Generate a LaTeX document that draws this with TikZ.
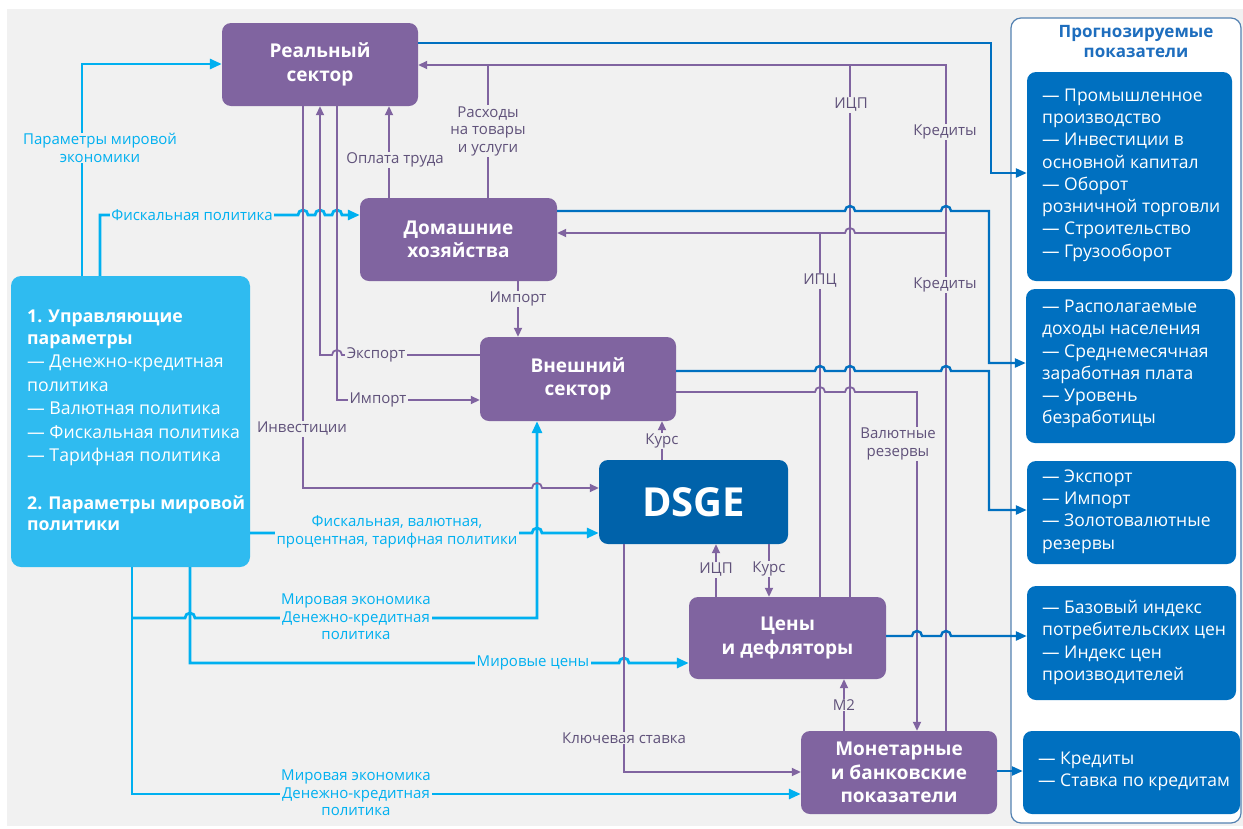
\documentclass[tikz,border=0pt]{standalone}
\usepackage{fontspec}
\setmainfont{Open Sans}
\usetikzlibrary{arrows.meta}

\definecolor{bggray}{RGB}{241,241,241}
\definecolor{mpurple}{RGB}{128,100,160}
\definecolor{ptext}{RGB}{96,82,122}
\definecolor{lblue}{RGB}{0,176,240}
\definecolor{lbox}{RGB}{47,187,240}
\definecolor{dblue}{RGB}{0,112,192}
\definecolor{dsgeblue}{RGB}{0,98,170}
\definecolor{framec}{RGB}{84,130,178}
\definecolor{ttlblue}{RGB}{30,110,190}

\newcommand{\boxfont}{\fontsize{19}{23.5}\selectfont\bfseries}
\newcommand{\lblfont}{\fontsize{15}{17.5}\selectfont}
\newcommand{\listfont}{\fontsize{17.5}{22.3}\selectfont}
\newcommand{\ctrlfont}{\fontsize{17.7}{23.5}\selectfont}

\tikzset{
  pbox/.style={rectangle,rounded corners=9pt,fill=mpurple,text=white,font=\boxfont,align=center},
  rbox/.style={rectangle,rounded corners=9pt,fill=dblue},
  rtext/.style={anchor=west,text=white,font=\listfont,align=left,inner sep=0pt},
  plabel/.style={fill=bggray,text=ptext,font=\lblfont,align=center,inner xsep=1.5pt,inner ysep=1pt},
  blabel/.style={plabel,text=lblue},
  pline/.style={draw=mpurple,line width=1.8pt},
  parrow/.style={pline,-{Triangle[length=9pt,width=8pt]}},
  bline/.style={draw=lblue,line width=2.8pt},
  barrow/.style={bline,-{Triangle[length=12pt,width=10pt]}},
  dline/.style={draw=dblue,line width=2.4pt,-{Triangle[length=11pt,width=9pt]}},
}

\begin{document}
\begin{tikzpicture}[x=1pt,y=-1pt]
  \useasboundingbox (0,0) rectangle (1243,828);
  \fill[bggray] (7,9) rectangle (1243,826);
  \draw[framec,line width=1.2pt,fill=white,rounded corners=10pt] (1011,18) rectangle (1241,823);
  \node[font=\fontsize{17}{20}\selectfont\bfseries,text=ttlblue,align=center] (ttl) at (1136,42) {Прогнозируемые\\показатели};

  % forecast boxes
  \node[rbox,minimum width=205,minimum height=209] (r1) at (1129.5,176.5) {};
  \node[rbox,minimum width=209,minimum height=154] (r2) at (1130.5,366) {};
  \node[rbox,minimum width=209,minimum height=103] (r3) at (1131.5,512.5) {};
  \node[rbox,minimum width=209,minimum height=114] (r4) at (1131.5,643) {};
  \node[rbox,minimum width=217,minimum height=83] (r5) at (1131.5,772.5) {};
  \node[rtext] (r1t) at (1042,175) {— Промышленное\\производство\\— Инвестиции в\\основной капитал\\— Оборот\\розничной торговли\\— Строительство\\— Грузооборот};
  \node[rtext] (r2t) at (1042,364) {— Располагаемые\\доходы населения\\— Среднемесячная\\заработная плата\\— Уровень\\безработицы};
  \node[rtext] (r3t) at (1042,511.5) {— Экспорт\\— Импорт\\— Золотовалютные\\резервы};
  \node[rtext] (r4t) at (1042,642.5) {— Базовый индекс\\потребительских цен\\— Индекс цен\\производителей};
  \node[rtext] (r5t) at (1038,771.5) {— Кредиты\\— Ставка по кредитам};

  % control parameters
  \node[rectangle,rounded corners=10pt,fill=lbox,minimum width=239,minimum height=291] (lp) at (130.5,421.5) {};
  \node[rtext,font=\ctrlfont] (lpt) at (27,420.5) {\textbf{1. Управляющие}\\[-2pt]\textbf{параметры}\\— Денежно-кредитная\\политика\\— Валютная политика\\— Фискальная политика\\— Тарифная политика\\[24pt]\textbf{2. Параметры мировой}\\[-2pt]\textbf{политики}};

  % model blocks
  \node[pbox,minimum width=196,minimum height=83] (re) at (320,64.5) {Реальный\\сектор};
  \node[pbox,minimum width=197,minimum height=83] (dh) at (458.5,239.5) {Домашние\\хозяйства};
  \node[pbox,minimum width=196,minimum height=84] (vs) at (578,379) {Внешний\\сектор};
  \node[pbox,fill=dsgeblue,font=\fontsize{40}{46}\selectfont\bfseries,minimum width=189,minimum height=84] (dsge) at (693.5,502) {DSGE};
  \node[pbox,minimum width=197,minimum height=82] (cd) at (787.5,638) {Цены\\и дефляторы};
  \node[pbox,minimum width=196,minimum height=83] (mb) at (899,772.5) {Монетарные\\и банковские\\показатели};

  % light blue inputs
  \coordinate (c1) at (82,64);
  \draw[barrow] (lp.north -| c1) -- (c1) -- (re.west |- c1);
  \coordinate (c2) at (100,215);
  \draw[barrow] (lp.north -| c2) -- (c2) -- (298,215) arc[start angle=180,end angle=360,radius=5]
    -- (315,215) arc[start angle=180,end angle=360,radius=5]
    -- (332,215) arc[start angle=180,end angle=360,radius=5] -- (dh.west |- c2);
  \coordinate (c3) at (537,533);
  \draw[barrow] (lp.east |- c3) -- (532,533) arc[start angle=180,end angle=360,radius=5] -- (dsge.west |- c3);
  \coordinate (c4) at (132,794);
  \draw[barrow] (lp.south -| c4) -- (c4) -- (mb.west |- c4);
  \coordinate (c5) at (132,618);
  \coordinate (c6) at (537,618);
  \draw[barrow] (c5) -- (185,618) arc[start angle=180,end angle=360,radius=5] -- (c6) -- (vs.south -| c6);
  \coordinate (c7) at (190,663);
  \draw[barrow] (lp.south -| c7) -- (c7) -- (619,663) arc[start angle=180,end angle=360,radius=5] -- (cd.west |- c7);

  % purple flows
  \coordinate (p1) at (303,488);
  \draw[parrow] (re.south -| p1) -- (p1) -- (532,488) arc[start angle=180,end angle=360,radius=5] -- (dsge.west |- p1);
  \coordinate (p2) at (320,355);
  \draw[parrow] (vs.west |- p2) -- (342,355) arc[start angle=0,end angle=-180,radius=5] -- (p2) -- (re.south -| p2);
  \coordinate (p3) at (337,400);
  \draw[parrow] (re.south -| p3) -- (p3) -- (vs.west |- p3);
  \coordinate (p4) at (389,160);
  \draw[parrow] (dh.north -| p4) -- (re.south -| p4);
  \coordinate (p5) at (946,65);
  \draw[parrow] (mb.north -| p5) -- (p5) -- (re.east |- p5);
  \coordinate (p6) at (488,65);
  \draw[pline] (dh.north -| p6) -- (p6);
  \coordinate (p7) at (850,65);
  \draw[pline] (cd.north -| p7) -- (p7);
  \coordinate (p8) at (946,233);
  \draw[parrow] (p8) -- (855,233) arc[start angle=0,end angle=-180,radius=5] -- (dh.east |- p8);
  \coordinate (p9) at (820,233);
  \draw[pline] (cd.north -| p9) -- (p9);
  \coordinate (p10) at (917,392);
  \draw[parrow] (vs.east |- p10) -- (815,392) arc[start angle=180,end angle=360,radius=5]
    -- (845,392) arc[start angle=180,end angle=360,radius=5] -- (p10) -- (mb.north -| p10);
  \coordinate (p11) at (662,441);
  \draw[parrow] (dsge.north -| p11) -- (vs.south -| p11);
  \coordinate (p12) at (716,570);
  \draw[parrow] (cd.north -| p12) -- (dsge.south -| p12);
  \coordinate (p13) at (769,570);
  \draw[parrow] (dsge.south -| p13) -- (cd.north -| p13);
  \coordinate (p14) at (624,772);
  \draw[parrow] (dsge.south -| p14) -- (p14) -- (mb.west |- p14);
  \coordinate (p15) at (844,705);
  \draw[parrow] (mb.north -| p15) -- (cd.south -| p15);
  \coordinate (p16) at (518,299);
  \draw[parrow] (dh.south -| p16) -- (vs.north -| p16);

  % dark blue outputs
  \coordinate (d1) at (991,43);
  \coordinate (d2) at (991,173);
  \draw[dline] (re.east |- d1) -- (d1) -- (d2) -- (r1.west |- d2);
  \coordinate (d3) at (989,211);
  \coordinate (d4) at (989,363);
  \draw[dline] (dh.east |- d3) -- (845,211) arc[start angle=180,end angle=360,radius=5]
    -- (941,211) arc[start angle=180,end angle=360,radius=5] -- (d3) -- (d4) -- (r2.west |- d4);
  \coordinate (d5) at (989,371);
  \coordinate (d6) at (989,510);
  \draw[dline] (vs.east |- d5) -- (815,371) arc[start angle=180,end angle=360,radius=5]
    -- (845,371) arc[start angle=180,end angle=360,radius=5]
    -- (941,371) arc[start angle=180,end angle=360,radius=5] -- (d5) -- (d6) -- (r3.west |- d6);
  \coordinate (d7) at (1000,636);
  \draw[dline] (cd.east |- d7) -- (912,636) arc[start angle=180,end angle=360,radius=5]
    -- (941,636) arc[start angle=180,end angle=360,radius=5] -- (r4.west |- d7);
  \coordinate (d8) at (1000,771);
  \draw[dline] (mb.east |- d8) -- (r5.west |- d8);

  % labels
  \node[blabel] (l1) at (100,148) {Параметры мировой\\экономики};
  \node[blabel] (l2) at (192,215) {Фискальная политика};
  \node[blabel] (l3) at (397,532) {Фискальная, валютная,\\процентная, тарифная политики};
  \node[blabel] (l4) at (356,617) {Мировая экономика\\Денежно-кредитная\\политика};
  \node[blabel] (l5) at (533,663) {Мировые цены};
  \node[blabel] (l6) at (356,793) {Мировая экономика\\Денежно-кредитная\\политика};
  \node[plabel] (m1) at (302,429) {Инвестиции};
  \node[plabel] (m2) at (376,355) {Экспорт};
  \node[plabel] (m3) at (378,400) {Импорт};
  \node[plabel] (m4) at (395,160) {Оплата труда};
  \node[plabel] (m5) at (488,131) {Расходы\\на товары\\и услуги};
  \node[plabel] (m6) at (851,105) {ИЦП};
  \node[plabel] (m7) at (945,132) {Кредиты};
  \node[plabel] (m8) at (820,281) {ИПЦ};
  \node[plabel] (m9) at (945,285) {Кредиты};
  \node[plabel] (m10) at (898,444) {Валютные\\резервы};
  \node[plabel] (m11) at (662,441) {Курс};
  \node[plabel] (m12) at (716,570) {ИЦП};
  \node[plabel] (m13) at (769,569) {Курс};
  \node[plabel] (m14) at (624,738) {Ключевая ставка};
  \node[plabel] (m15) at (844,705) {M2};
  \node[plabel] (m16) at (518,299) {Импорт};
\end{tikzpicture}
\end{document}
